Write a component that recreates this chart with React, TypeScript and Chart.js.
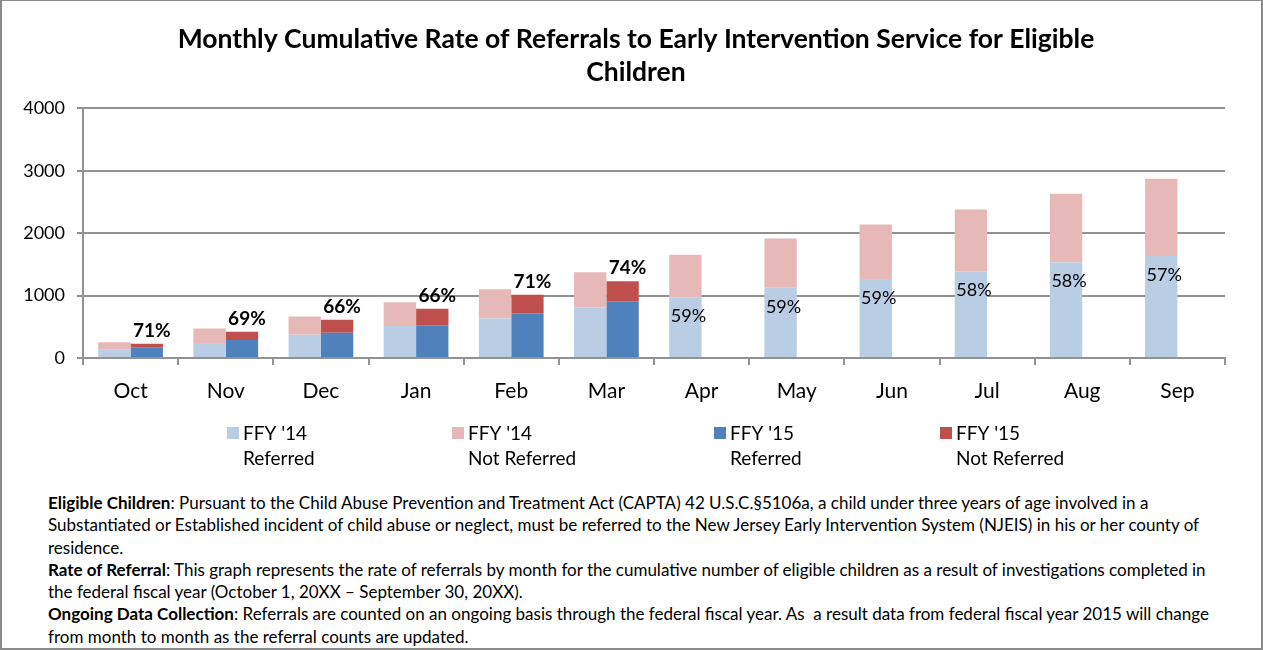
import React, { useEffect, useRef } from "react";
import { Chart, registerables } from "chart.js";

Chart.register(...registerables);

const FONT = "Lato, 'Open Sans', sans-serif";

const months = ["Oct", "Nov", "Dec", "Jan", "Feb", "Mar", "Apr", "May", "Jun", "Jul", "Aug", "Sep"];
const ffy14Referred = [134, 241, 374, 513, 631, 807, 970, 1125, 1265, 1385, 1530, 1632];
const ffy14NotReferred = [117, 230, 289, 380, 471, 567, 682, 789, 874, 995, 1101, 1240];
const ffy15Referred = [163, 290, 404, 517, 716, 907, null, null, null, null, null, null];
const ffy15NotReferred = [67, 131, 210, 271, 297, 321, null, null, null, null, null, null];
const yTickValues = [0, 1000, 2000, 3000, 4000];
const seriesNames = [
  ["FFY '14", "Referred"],
  ["FFY '14", "Not Referred"],
  ["FFY '15", "Referred"],
  ["FFY '15", "Not Referred"],
];
const seriesColors = ["#B9CDE5", "#E6B9B8", "#4F81BD", "#C0504D"];
const titleLines = [
  "Monthly Cumulative Rate of Referrals to Early Intervention Service for Eligible",
  "Children",
];

const notes: { bold: string; lines: string[] }[] = [
  {
    bold: "Eligible Children",
    lines: [
      ": Pursuant to the Child Abuse Prevention and Treatment Act (CAPTA) 42 U.S.C.§5106a, a child under three years of age involved in a",
      "Substantiated or Established incident of child abuse or neglect, must be referred to the New Jersey Early Intervention System (NJEIS) in his or her county of",
      "residence.",
    ],
  },
  {
    bold: "Rate of Referral",
    lines: [
      ": This graph represents the rate of referrals by month for the cumulative number of eligible children as a result of investigations completed in",
      "the federal fiscal year (October 1, 20XX – September 30, 20XX).",
    ],
  },
  {
    bold: "Ongoing Data Collection",
    lines: [
      ": Referrals are counted on an ongoing basis through the federal fiscal year. As  a result data from federal fiscal year 2015 will change",
      "from month to month as the referral counts are updated.",
    ],
  },
];

const legendBoxX = [227, 452, 714, 940];

const rateLabelPlugin = {
  id: "rateLabels",
  afterDatasetsDraw(chart: any) {
    const ctx = chart.ctx;
    ctx.save();
    ctx.textAlign = "center";
    ctx.textBaseline = "middle";
    ctx.fillStyle = "#000";
    months.forEach((_, i) => {
      const r15 = ffy15Referred[i];
      const n15 = ffy15NotReferred[i];
      if (r15 != null && n15 != null) {
        const bar = chart.getDatasetMeta(3).data[i];
        const pct = Math.round((r15 / (r15 + n15)) * 100);
        ctx.font = `bold 19px ${FONT}`;
        ctx.fillText(`${pct}%`, bar.x + 5, bar.y - 13);
      } else {
        const bar = chart.getDatasetMeta(0).data[i];
        const pct = Math.round((ffy14Referred[i] / (ffy14Referred[i] + ffy14NotReferred[i])) * 100);
        ctx.font = `18px ${FONT}`;
        ctx.fillText(`${pct}%`, bar.x + 3, bar.y + 19);
      }
    });
    ctx.restore();
  },
};

const legendPlugin = {
  id: "twoLineLegend",
  afterDraw(chart: any) {
    const ctx = chart.ctx;
    ctx.save();
    ctx.font = `19px ${FONT}`;
    ctx.textAlign = "left";
    ctx.textBaseline = "middle";
    seriesNames.forEach((lines, i) => {
      const x = legendBoxX[i];
      ctx.fillStyle = seriesColors[i];
      ctx.fillRect(x, 427, 12, 12);
      ctx.fillStyle = "#000";
      ctx.fillText(lines[0], x + 16, 434);
      ctx.fillText(lines[1], x + 16, 459);
    });
    ctx.restore();
  },
};

export default function App() {
  const canvasRef = useRef<HTMLCanvasElement>(null);

  useEffect(() => {
    document.body.style.margin = "0";
    const canvas = canvasRef.current;
    if (!canvas) return;
    const chart = new Chart(canvas, {
      type: "bar",
      data: {
        labels: months,
        datasets: [
          { label: seriesNames[0].join(" "), data: ffy14Referred, backgroundColor: seriesColors[0], stack: "ffy14" },
          { label: seriesNames[1].join(" "), data: ffy14NotReferred, backgroundColor: seriesColors[1], stack: "ffy14" },
          { label: seriesNames[2].join(" "), data: ffy15Referred, backgroundColor: seriesColors[2], stack: "ffy15" },
          { label: seriesNames[3].join(" "), data: ffy15NotReferred, backgroundColor: seriesColors[3], stack: "ffy15" },
        ] as any,
      },
      options: {
        responsive: false,
        animation: false,
        datasets: { bar: { categoryPercentage: 0.68, barPercentage: 1.0 } } as any,
        layout: { padding: { left: 18, right: 9, top: 0, bottom: 72 } },
        plugins: {
          legend: { display: false },
          tooltip: { enabled: false },
          title: {
            display: true,
            text: titleLines,
            color: "#000",
            font: { family: FONT, size: 26.5, weight: "bold", lineHeight: 1.25 },
            padding: { top: 23, bottom: 19 },
          },
        },
        scales: {
          x: {
            stacked: true,
            grid: {
              display: true,
              drawOnChartArea: false,
              drawTicks: true,
              tickLength: 7,
              color: "#929292",
              tickColor: "#929292",
              lineWidth: 2,
              offset: true,
            },
            border: { color: "#929292", width: 2 },
            ticks: { color: "#000", font: { family: FONT, size: 21 }, padding: 14 },
            afterFit: (s: any) => {
              s.height = 60;
            },
          },
          y: {
            stacked: true,
            min: 0,
            max: 4000,
            afterBuildTicks: (s: any) => {
              s.ticks = yTickValues.map((v) => ({ value: v }));
            },
            grid: { color: "#929292", tickColor: "#929292", lineWidth: 2, tickLength: 6 },
            border: { color: "#929292", width: 2 },
            ticks: {
              color: "#000",
              font: { family: FONT, size: 18 },
              padding: 12,
              callback: (v: any) => String(v),
            },
            afterFit: (s: any) => {
              s.width = 65;
            },
          },
          yRightSpace: {
            type: "linear",
            position: "right",
            display: true,
            grid: { display: false, drawTicks: false },
            border: { display: false },
            ticks: { display: false },
            afterFit: (s: any) => {
              s.width = 29;
            },
          },
        } as any,
      },
      plugins: [rateLabelPlugin, legendPlugin],
    });
    return () => chart.destroy();
  }, []);

  return (
    <div style={{ position: "relative", width: 1263, height: 650, background: "#fff", overflow: "hidden" }}>
      <canvas ref={canvasRef} width={1263} height={490} style={{ position: "absolute", left: 0, top: 0 }} />
      <div
        style={{
          position: "absolute",
          left: 48,
          top: 492,
          fontFamily: FONT,
          fontSize: 17,
          lineHeight: "22.3px",
          color: "#000",
          whiteSpace: "pre",
        }}
      >
        {notes.map((n, k) => (
          <div key={k}>
            {n.lines.map((l, j) => (
              <div key={j}>
                {j === 0 ? <b>{n.bold}</b> : null}
                {l}
              </div>
            ))}
          </div>
        ))}
      </div>
      <div
        style={{
          position: "absolute",
          left: 0,
          top: 0,
          width: 1263,
          height: 650,
          boxSizing: "border-box",
          borderStyle: "solid",
          borderColor: "#8a8a8a",
          borderWidth: "1px 2px 2px 2px",
          pointerEvents: "none",
        }}
      />
    </div>
  );
}
